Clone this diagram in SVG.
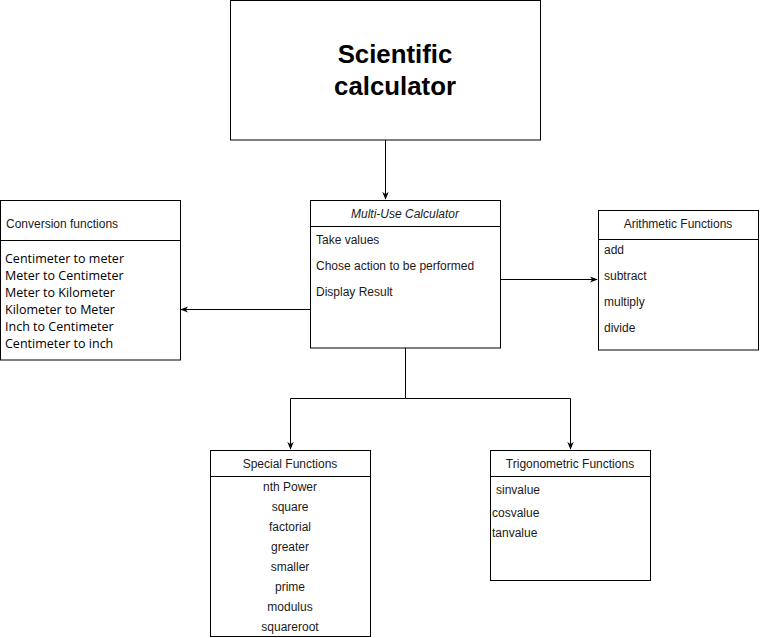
<svg xmlns="http://www.w3.org/2000/svg" width="760" height="638" viewBox="0 0 760 638">
<defs>
<style>
.box{fill:#fff;stroke:#000;stroke-width:1}
.t{font-family:"Liberation Sans",Arial,sans-serif;font-size:12px;fill:#1a1a1a}
.c{text-anchor:middle}
.conv{font-family:"Open Sans","Noto Sans",sans-serif;font-size:12.5px;fill:#000}
.edge{fill:none;stroke:#000;stroke-width:1}
</style>
<marker id="ah" viewBox="0 0 10 10" refX="9" refY="5" markerWidth="8" markerHeight="8" markerUnits="userSpaceOnUse" orient="auto">
<path d="M0,1 L10,5 L0,9 L3,5 Z" fill="#000"/>
</marker>
</defs>
<rect width="760" height="638" fill="#fff"/>
<g id="connectors">
<path class="edge" d="M385.5,140 V199" marker-end="url(#ah)"/>
<path class="edge" d="M310,309.5 H181" marker-end="url(#ah)"/>
<path class="edge" d="M500,279.5 H597" marker-end="url(#ah)"/>
<path class="edge" d="M405.5,348 V398.5 H290.5 V449" marker-end="url(#ah)"/>
<path class="edge" d="M405.5,398.5 H570.5 V449" marker-end="url(#ah)"/>
</g>
<g id="title">
<rect class="box" x="230.5" y="0.5" width="310" height="139.5"/>
<text x="395" y="63" text-anchor="middle" font-family="'Liberation Sans',Arial,sans-serif" font-size="25.8" font-weight="bold" fill="#000">Scientific</text>
<text x="395" y="95" text-anchor="middle" font-family="'Liberation Sans',Arial,sans-serif" font-size="25.8" font-weight="bold" fill="#000">calculator</text>
</g>
<g id="multi">
<rect class="box" x="310.5" y="200.5" width="190" height="147.5"/>
<line class="edge" x1="310.5" y1="226.5" x2="500.5" y2="226.5"/>
<text class="t c" x="405" y="218" font-style="italic">Multi-Use Calculator</text>
<text class="t" x="316" y="244">Take values</text>
<text class="t" x="316" y="270">Chose action to be performed</text>
<text class="t" x="316" y="296">Display Result</text>
</g>
<g id="conversion">
<rect class="box" x="0.5" y="200.5" width="180" height="159.5"/>
<line class="edge" x1="0.5" y1="240.5" x2="180.5" y2="240.5"/>
<text class="t" x="6" y="228">Conversion functions</text>
<text class="conv" x="5" y="263">Centimeter to meter</text>
<text class="conv" x="5" y="280">Meter to Centimeter</text>
<text class="conv" x="5" y="297">Meter to Kilometer</text>
<text class="conv" x="5" y="314">Kilometer to Meter</text>
<text class="conv" x="5" y="331">Inch to Centimeter</text>
<text class="conv" x="5" y="348">Centimeter to inch</text>
</g>
<g id="arithmetic">
<rect class="box" x="598.5" y="210.5" width="160" height="139.5"/>
<line class="edge" x1="598.5" y1="239.5" x2="758.5" y2="239.5"/>
<text class="t c" x="678" y="228">Arithmetic Functions</text>
<text class="t" x="604" y="254">add</text>
<text class="t" x="604" y="280">subtract</text>
<text class="t" x="604" y="306">multiply</text>
<text class="t" x="604" y="332">divide</text>
</g>
<g id="special">
<rect class="box" x="210.5" y="450.5" width="160" height="186"/>
<line class="edge" x1="210.5" y1="476.5" x2="370.5" y2="476.5"/>
<text class="t c" x="290" y="468">Special Functions</text>
<text class="t c" x="290" y="491">nth Power</text>
<text class="t c" x="290" y="511">square</text>
<text class="t c" x="290" y="531">factorial</text>
<text class="t c" x="290" y="551">greater</text>
<text class="t c" x="290" y="571">smaller</text>
<text class="t c" x="290" y="591">prime</text>
<text class="t c" x="290" y="611">modulus</text>
<text class="t c" x="290" y="631">squareroot</text>
</g>
<g id="trig">
<rect class="box" x="490.5" y="450.5" width="160" height="130"/>
<line class="edge" x1="490.5" y1="476.5" x2="650.5" y2="476.5"/>
<text class="t c" x="570" y="468">Trigonometric Functions</text>
<text class="t" x="496" y="494">sinvalue</text>
<text class="t" x="492" y="517">cosvalue</text>
<text class="t" x="492" y="537">tanvalue</text>
</g>
</svg>
